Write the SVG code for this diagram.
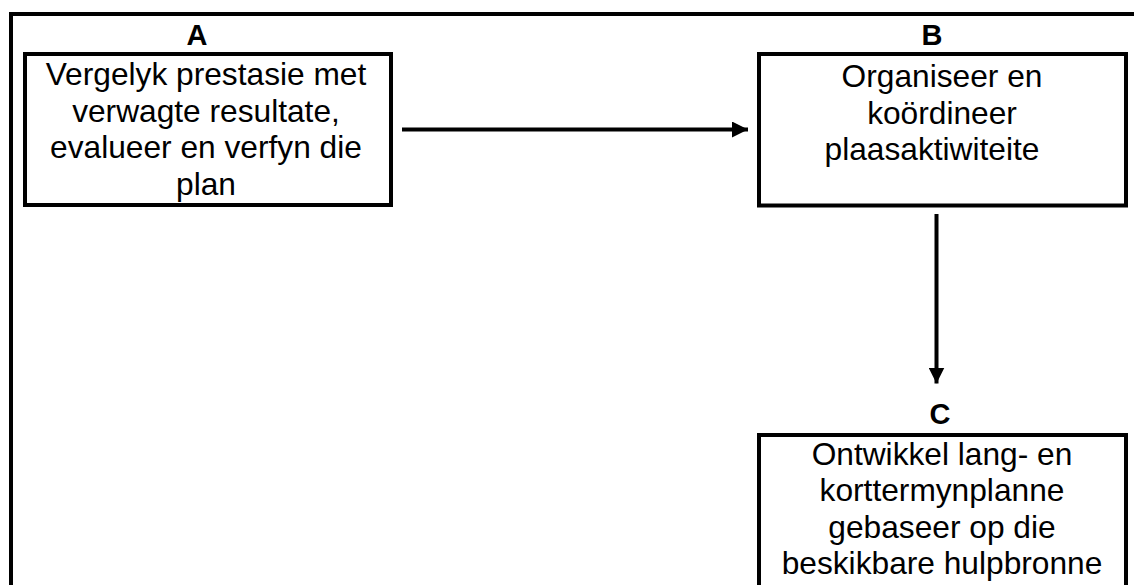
<svg xmlns="http://www.w3.org/2000/svg" width="1134" height="585" viewBox="0 0 1134 585">
  <style>
    .frame { fill: none; stroke: #000; stroke-width: 4; }
    .box { fill: #fff; stroke: #000; stroke-width: 4; }
    .body { font-family: "Liberation Sans", Arial, sans-serif; font-size: 31.7px; fill: #000; text-anchor: middle; }
    .label { font-family: "Liberation Sans", Arial, sans-serif; font-size: 29px; font-weight: bold; fill: #000; text-anchor: middle; }
    .conn { stroke: #000; stroke-width: 4; fill: none; }
  </style>
  <defs>
    <marker id="arrow" markerUnits="userSpaceOnUse" markerWidth="16" markerHeight="16" refX="16" refY="8" orient="auto" viewBox="0 0 16 16">
      <path d="M0,0 L16,8 L0,16 Z" fill="#000"/>
    </marker>
  </defs>
  <rect width="1134" height="585" fill="#fff"/>
  <g id="frame">
    <path class="frame" d="M11,585 L11,14 L1134,14"/>
  </g>
  <g id="nodeA">
    <text class="label" x="197" y="45">A</text>
    <rect class="box" x="25" y="54" width="366" height="151"/>
    <text class="body" x="206" y="85">Vergelyk prestasie met</text>
    <text class="body" x="206" y="121.5">verwagte resultate,</text>
    <text class="body" x="206" y="158">evalueer en verfyn die</text>
    <text class="body" x="206" y="194.5">plan</text>
  </g>
  <g id="nodeB">
    <text class="label" x="932" y="44.5">B</text>
    <rect class="box" x="759" y="54" width="367" height="151.5"/>
    <text class="body" x="942" y="87">Organiseer en</text>
    <text class="body" x="942" y="123.5">koördineer</text>
    <text class="body" x="932" y="160">plaasaktiwiteite</text>
  </g>
  <g id="nodeC">
    <text class="label" x="940" y="424">C</text>
    <rect class="box" x="759" y="435" width="367" height="200"/>
    <text class="body" x="942" y="464.5">Ontwikkel lang- en</text>
    <text class="body" x="942" y="501">korttermynplanne</text>
    <text class="body" x="942" y="537.5">gebaseer op die</text>
    <text class="body" x="942" y="574">beskikbare hulpbronne</text>
  </g>
  <g id="connectors">
    <line class="conn" x1="402" y1="129.5" x2="748" y2="129.5" marker-end="url(#arrow)"/>
    <line class="conn" x1="936.5" y1="214" x2="936.5" y2="383.5" marker-end="url(#arrow)"/>
  </g>
</svg>
